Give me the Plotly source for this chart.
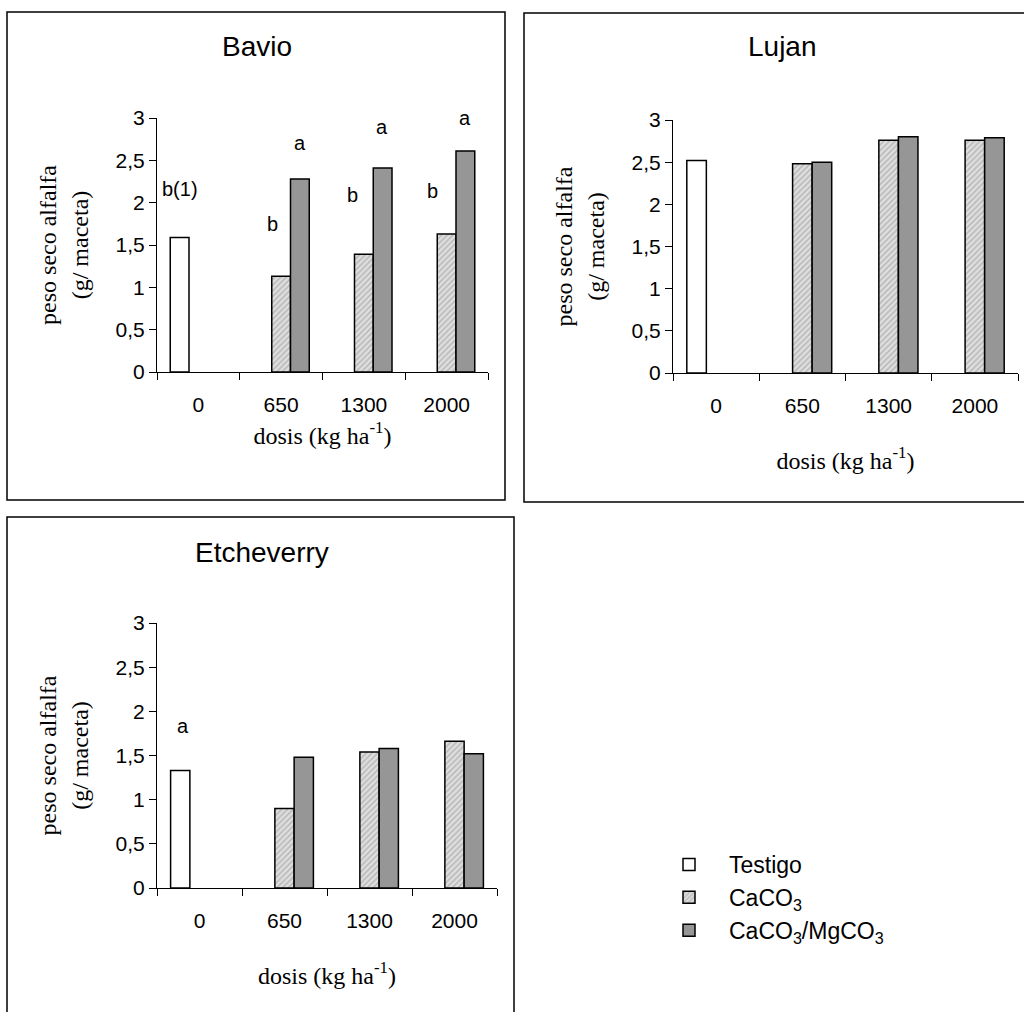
import plotly.graph_objects as go

W, H = 1024, 1012

# ---------------- data ----------------
dosis = ["0", "650", "1300", "2000"]
series_names = ["Testigo", "CaCO<sub>3</sub>", "CaCO<sub>3</sub>/MgCO<sub>3</sub>"]

bavio_testigo = [1.59, None, None, None]
bavio_caco3 = [None, 1.13, 1.39, 1.63]
bavio_camg = [None, 2.28, 2.41, 2.61]

lujan_testigo = [2.52, None, None, None]
lujan_caco3 = [None, 2.48, 2.76, 2.76]
lujan_camg = [None, 2.50, 2.80, 2.79]

etch_testigo = [1.33, None, None, None]
etch_caco3 = [None, 0.90, 1.54, 1.66]
etch_camg = [None, 1.48, 1.58, 1.52]

y_ticks = [0, 0.5, 1, 1.5, 2, 2.5, 3]

# significance letters: (category index, offset in categories, y, text)
bavio_letters = [(0, -0.225, 2.16, "b(1)"), (1, -0.10, 1.75, "b"), (1, 0.225, 2.70, "a"),
                 (2, -0.14, 2.09, "b"), (2, 0.225, 2.89, "a"),
                 (3, -0.17, 2.14, "b"), (3, 0.225, 3.00, "a")]
etch_letters = [(0, -0.20, 1.83, "a")]

panels = [
    ("Bavio", bavio_testigo, bavio_caco3, bavio_camg, bavio_letters),
    ("Lujan", lujan_testigo, lujan_caco3, lujan_camg, []),
    ("Etcheverry", etch_testigo, etch_caco3, etch_camg, etch_letters),
]

# ---------------- layout geometry (pixels) ----------------
areas = [(157, 488, 118, 372), (673, 1018, 120, 373), (157, 497, 623, 888)]
title_pos = [(257, 47), (782, 47), (262, 552)]
ytitle_standoff = [20, 20, 20]
xtitle_standoff = [11, 35, 35]
borders = [(7, 505, 12, 500), (524, 1030, 13, 502), (7, 514, 517, 1030)]

SANS = "Liberation Sans, Arial, sans-serif"
SERIF = "Liberation Serif, Times New Roman, serif"


def px(x):
    return x / W


def py(y):
    return 1 - y / H


fig = go.Figure()

styles = [
    dict(marker=dict(color="white", line=dict(color="black", width=1.5))),
    dict(marker=dict(color="#d6d6d6", line=dict(color="black", width=1.5),
                     pattern=dict(shape="/", size=4, solidity=0.35,
                                  fgcolor="#8a8a8a", bgcolor="#dedede"))),
    dict(marker=dict(color="#969696", line=dict(color="black", width=1.5))),
]

annotations = []
for i, (name, t, c, m, letters) in enumerate(panels):
    xa = "x" if i == 0 else f"x{i+1}"
    ya = "y" if i == 0 else f"y{i+1}"
    for k, vals in enumerate([t, c, m]):
        fig.add_trace(go.Bar(
            x=dosis, y=vals, name=series_names[k], xaxis=xa, yaxis=ya,
            legendgroup=series_names[k], showlegend=(i == 0), **styles[k]))
    x0, x1, y0, y1 = areas[i]
    axis_key = "" if i == 0 else str(i + 1)
    fig.update_layout(**{
        f"xaxis{axis_key}": dict(
            domain=[px(x0), px(x1)], anchor=ya, type="category",
            categoryorder="array", categoryarray=dosis, automargin=False,
            range=[-0.5, 3.5], showline=True, linecolor="black", linewidth=1,
            ticks="outside", tickson="boundaries", ticklen=7, tickcolor="black",
            ticklabelstandoff=14,
            tickfont=dict(family=SANS, size=21, color="black"),
            showgrid=False, zeroline=False,
            title=dict(text="dosis (kg ha<sup>-1</sup>)",
                       font=dict(family=SERIF, size=24, color="black"),
                       standoff=xtitle_standoff[i]),
        ),
        f"yaxis{axis_key}": dict(
            domain=[py(y1), py(y0)], anchor=xa, range=[0, 3], automargin=False,
            tickvals=y_ticks, showline=True, linecolor="black", linewidth=1,
            ticks="outside", ticklen=7, tickcolor="black",
            tickfont=dict(family=SANS, size=21, color="black"),
            showgrid=False, zeroline=False,
            title=dict(text="peso seco alfalfa<br>(g/ maceta)",
                       font=dict(family=SERIF, size=24, color="black"),
                       standoff=ytitle_standoff[i]),
        ),
    })
    tx, ty = title_pos[i]
    annotations.append(dict(text=name, x=px(tx), y=py(ty), xref="paper", yref="paper",
                            showarrow=False, xanchor="center", yanchor="middle",
                            font=dict(family=SANS, size=28, color="black")))
    for (ci, off, yv, txt) in letters:
        annotations.append(dict(text=txt, x=ci + off, y=yv, xref=xa, yref=ya,
                                showarrow=False, xanchor="center", yanchor="middle",
                                font=dict(family=SANS, size=20, color="black")))

shapes = []
for (bx0, bx1, by0, by1) in borders:
    shapes.append(dict(type="rect", xref="paper", yref="paper",
                       x0=px(bx0), x1=px(bx1), y0=py(by1), y1=py(by0),
                       line=dict(color="black", width=1.5), fillcolor="rgba(0,0,0,0)"))

fig.update_layout(
    width=W, height=H,
    margin=dict(l=0, r=0, t=0, b=0, autoexpand=False),
    paper_bgcolor="white", plot_bgcolor="white",
    barmode="group", bargap=0.32, bargroupgap=0,
    separators=",.",
    annotations=annotations, shapes=shapes,
    showlegend=True,
    legend=dict(x=px(649), y=py(843), xanchor="left", yanchor="top",
                font=dict(family=SANS, size=23, color="black"),
                tracegroupgap=4, itemwidth=70, bgcolor="rgba(0,0,0,0)",
                traceorder="normal"),
)

fig.write_html(
    "out.html",
    config={"displayModeBar": False},
    post_script=("document.body.style.margin='0';"
                 "document.body.style.overflow='hidden';"
                 "document.documentElement.style.overflow='hidden';"),
)
